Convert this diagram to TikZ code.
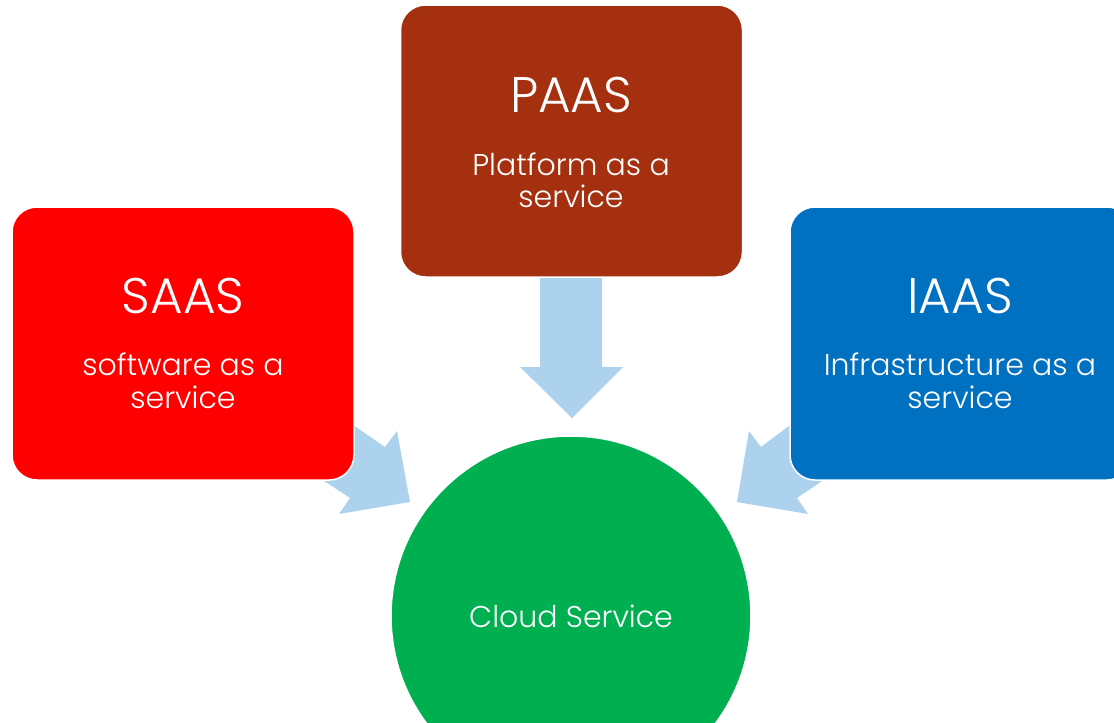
\documentclass[tikz,border=0pt]{standalone}
\usepackage{fontspec}
\setmainfont{Poppins}[UprightFont=* Light]
\definecolor{saasred}{HTML}{FF0000}
\definecolor{paasbrown}{HTML}{A5300F}
\definecolor{iaasblue}{HTML}{0070C0}
\definecolor{cloudgreen}{HTML}{00B050}
\definecolor{arrowblue}{HTML}{ADD2EE}
\tikzset{
  box/.style={rectangle, rounded corners=25pt, draw=white, line width=1.5pt,
    minimum width=342pt, minimum height=273pt, inner sep=0pt},
  titletext/.style={text=white, anchor=base, inner sep=0pt, font=\fontsize{50}{60}\selectfont},
  desctext/.style={text=white, anchor=base, inner sep=0pt, font=\fontsize{30}{36}\selectfont},
  blockarrow/.style={fill=arrowblue}
}
\begin{document}
\begin{tikzpicture}[x=1pt,y=-1pt]
\useasboundingbox (0,0) rectangle (1114,723);
\clip (0,0) rectangle (1114,723);
% block arrows
\fill[blockarrow] (340,416) -- (385,447) -- (397,431) -- (410,502) -- (339,514) -- (350,498) -- (312,473) -- cycle;
\fill[blockarrow] (540,270) -- (602,270) -- (602,367) -- (623,367) -- (572,418) -- (520,367) -- (540,367) -- cycle;
\fill[blockarrow] (802,416) -- (761,447) -- (749,431) -- (737,502) -- (808,514) -- (797,498) -- (834,473) -- cycle;
% boxes
\node[box, fill=saasred] (saas) at (183,343.5) {};
\node[box, fill=paasbrown, minimum height=272pt] (paas) at (571.5,141) {};
\node[box, fill=iaasblue] (iaas) at (961,343.5) {};
\node[circle, fill=cloudgreen, draw=white, line width=1.5pt, minimum size=360pt, inner sep=0pt] (cloud) at (571,616) {};
% texts
\node[titletext] (saasT) at (183,313) {SAAS};
\node[desctext] (saasD1) at (183,375) {software as a};
\node[desctext] (saasD2) at (183,408) {service};
\node[titletext] (paasT) at (571,112) {PAAS};
\node[desctext] (paasD1) at (571,175) {Platform as a};
\node[desctext] (paasD2) at (571,207) {service};
\node[titletext] (iaasT) at (960,313) {IAAS};
\node[desctext] (iaasD1) at (960,375) {Infrastructure as a};
\node[desctext] (iaasD2) at (960,408) {service};
\node[desctext] (cloudT) at (571,627) {Cloud Service};
\end{tikzpicture}
\end{document}
